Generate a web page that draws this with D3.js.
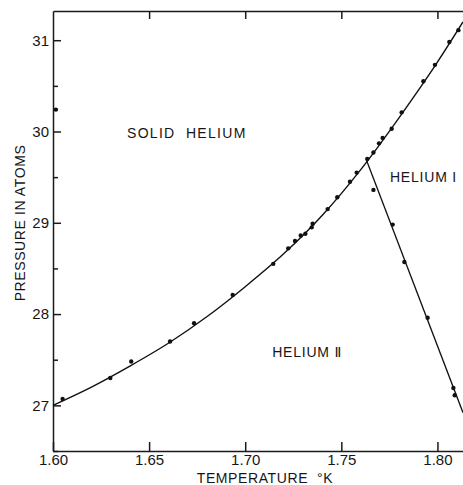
<!DOCTYPE html>
<html>
<head>
<meta charset="utf-8">
<script src="https://cdn.jsdelivr.net/npm/d3@7"></script>
<style>
  body { margin: 0; background: #fff; }
  svg text { font-family: "Liberation Sans", "DejaVu Sans", sans-serif; fill: #161616; }
  .axis path, .axis line { stroke: #1a1a1a; stroke-width: 1.5; }
  .axis text { font-size: 15px; }
</style>
</head>
<body>
<div id="chart"></div>
<script>

// melting curve (solid / liquid boundary)
var curveT = [1.600, 1.620, 1.640, 1.660, 1.680, 1.700, 1.720, 1.740, 1.760, 1.780, 1.800, 1.8133];
var curveP = [27.00, 27.20, 27.43, 27.68, 27.97, 28.30, 28.66, 29.08, 29.58, 30.15, 30.76, 31.20];

// lambda line (He I / He II boundary)
var lambdaT = [1.7632, 1.8133];
var lambdaP = [29.68, 26.92];

// measured points on the melting curve
var meltT = [1.6050, 1.6298, 1.6407, 1.6609, 1.6734, 1.6935, 1.7146, 1.7224, 1.7259, 1.7289,
             1.7313, 1.7346, 1.7351, 1.7429, 1.7479, 1.7545, 1.7580, 1.7635, 1.7667, 1.7696,
             1.7715, 1.7762, 1.7814, 1.7927, 1.7987, 1.8062, 1.8109, 1.6015];
var meltP = [27.07, 27.30, 27.48, 27.70, 27.90, 28.21, 28.55, 28.72, 28.80, 28.86,
             28.88, 28.95, 28.99, 29.15, 29.28, 29.45, 29.55, 29.70, 29.77, 29.87,
             29.93, 30.03, 30.21, 30.55, 30.73, 30.98, 31.11, 30.24];

// measured points on the lambda line
var lamPtT = [1.7667, 1.7767, 1.7828, 1.7949, 1.8083, 1.8090];
var lamPtP = [29.36, 28.98, 28.57, 27.96, 27.19, 27.11];

var xTicks = [1.60, 1.65, 1.70, 1.75, 1.80];
var yTicks = [27, 28, 29, 30, 31];
var yMinor = [26.5, 27.5, 28.5, 29.5, 30.5];

var regionNames = ["SOLID  HELIUM", "HELIUM I", "HELIUM \u2161"];
var regionT = [1.6385, 1.7753, 1.7140];
var regionP = [29.93, 29.45, 27.53];

var width = 463, height = 485;

var x = d3.scaleLinear().domain([1.60, 1.8133]).range([53, 463]);
var y = d3.scaleLinear().domain([26.5, 31.32]).range([451, 11]);

var svg = d3.select("#chart").append("svg")
    .attr("width", width)
    .attr("height", height);

// axes
svg.append("g").attr("class", "axis")
    .attr("transform", "translate(0," + y.range()[0] + ")")
    .call(d3.axisBottom(x).tickValues(xTicks).tickFormat(d3.format(".2f"))
        .tickSize(-9).tickSizeOuter(0).tickPadding(3));

svg.append("g").attr("class", "axis")
    .attr("transform", "translate(0," + y.range()[1] + ")")
    .call(d3.axisTop(x).tickValues(xTicks.slice(1)).tickFormat("")
        .tickSize(-8).tickSizeOuter(0));

svg.append("g").attr("class", "axis")
    .attr("transform", "translate(" + x.range()[0] + ",0)")
    .call(d3.axisLeft(y).tickValues(yTicks).tickFormat(d3.format("d"))
        .tickSize(-8).tickSizeOuter(0).tickPadding(4));

svg.append("g").attr("class", "axis")
    .attr("transform", "translate(" + x.range()[0] + ",0)")
    .call(d3.axisLeft(y).tickValues(yMinor).tickFormat("")
        .tickSize(-5).tickSizeOuter(0))
    .select(".domain").remove();

// melting curve
var line = d3.line()
    .x(function(d) { return x(d[0]); })
    .y(function(d) { return y(d[1]); })
    .curve(d3.curveMonotoneX);

svg.append("path")
    .datum(curveT.map(function(t, i) { return [t, curveP[i]]; }))
    .attr("d", line)
    .attr("fill", "none")
    .attr("stroke", "#111")
    .attr("stroke-width", 1.4);

svg.append("path")
    .datum(lambdaT.map(function(t, i) { return [t, lambdaP[i]]; }))
    .attr("d", d3.line().x(function(d) { return x(d[0]); }).y(function(d) { return y(d[1]); }))
    .attr("fill", "none")
    .attr("stroke", "#111")
    .attr("stroke-width", 1.3);

// points
var pts = meltT.map(function(t, i) { return [t, meltP[i]]; })
    .concat(lamPtT.map(function(t, i) { return [t, lamPtP[i]]; }));

svg.selectAll("circle.pt")
    .data(pts).enter().append("circle")
    .attr("class", "pt")
    .attr("cx", function(d) { return x(d[0]); })
    .attr("cy", function(d) { return y(d[1]); })
    .attr("r", 2.2)
    .attr("fill", "#111");

// region labels
svg.selectAll("text.region")
    .data(regionNames).enter().append("text")
    .attr("class", "region")
    .attr("x", function(d, i) { return x(regionT[i]); })
    .attr("y", function(d, i) { return y(regionP[i]); })
    .attr("font-size", 14)
    .attr("letter-spacing", function(d, i) { return i == 0 ? 1.3 : 0.8; })
    .style("white-space", "pre")
    .text(function(d) { return d; });

// axis titles
svg.append("text")
    .attr("x", 265)
    .attr("y", 483)
    .attr("text-anchor", "middle")
    .attr("font-size", 14)
    .attr("letter-spacing", 0.6)
    .style("white-space", "pre")
    .text("TEMPERATURE  \u00b0K");

svg.append("text")
    .attr("transform", "translate(25,223) rotate(-90)")
    .attr("text-anchor", "middle")
    .attr("font-size", 14)
    .attr("letter-spacing", 0.6)
    .text("PRESSURE IN ATOMS");

</script>
</body>
</html>
